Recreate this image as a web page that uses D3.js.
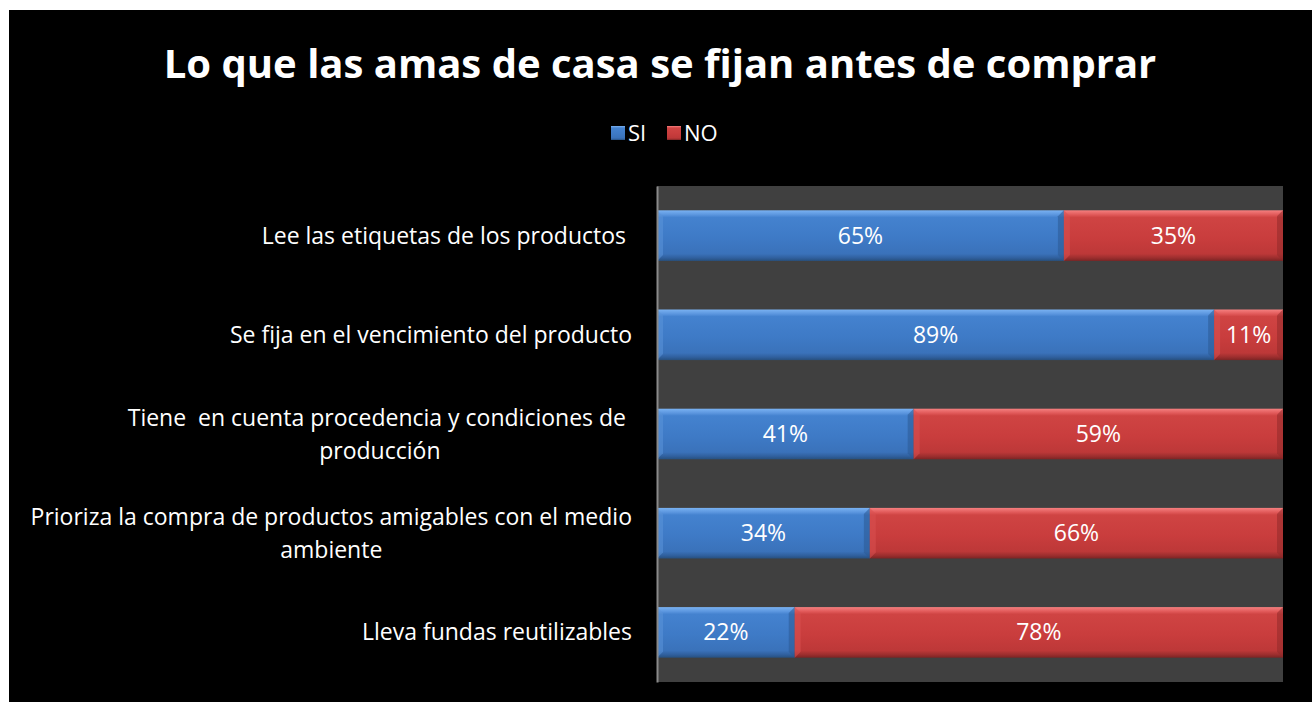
<!DOCTYPE html>
<html>
<head>
<meta charset="utf-8">
<script src="https://cdn.jsdelivr.net/npm/d3@7"></script>
<style>
  body { margin: 0; background: #fff; }
  svg { display: block; }
  text { white-space: pre; }
</style>
</head>
<body>
<script>
const width = 1312, height = 702;

// data
const categories = [
    ["Lee las etiquetas de los productos "],
    ["Se fija en el vencimiento del producto"],
    ["Tiene  en cuenta procedencia y condiciones de ", "producción"],
    ["Prioriza la compra de productos amigables con el medio", "ambiente"],
    ["Lleva fundas reutilizables"]
];
const si = [65, 89, 41, 34, 22];
const no = [35, 11, 59, 66, 78];
const seriesNames = ["SI", "NO"];

const font = "'Open Sans', Lato, sans-serif";
const plot = { left: 657, right: 1283, top: 186, bottom: 682 };

const svg = d3.select("body").append("svg")
    .attr("width", width)
    .attr("height", height);

svg.append("rect")
    .attr("x", 9).attr("y", 10)
    .attr("width", width - 9).attr("height", height - 10)
    .attr("fill", "#000");

const defs = svg.append("defs");
function bevelGradient(id, stops) {
    const g = defs.append("linearGradient")
        .attr("id", id)
        .attr("x1", 0).attr("y1", 0).attr("x2", 0).attr("y2", 1);
    stops.forEach(s => g.append("stop").attr("offset", s[0]).attr("stop-color", s[1]));
}
bevelGradient("grad-si", [["0%", "#7ab2f2"], ["9%", "#5a95de"], ["14%", "#4482cf"], ["55%", "#3e7ac6"], ["86%", "#3a72ba"], ["94%", "#30609e"], ["100%", "#27507f"]]);
bevelGradient("grad-no", [["0%", "#f58080"], ["9%", "#e05858"], ["14%", "#cf4443"], ["55%", "#c93d3d"], ["86%", "#bd3838"], ["94%", "#9c2e2e"], ["100%", "#7c2424"]]);
const fills = { SI: "url(#grad-si)", NO: "url(#grad-no)" };

// title
svg.append("text")
    .attr("x", 660).attr("y", 78)
    .attr("text-anchor", "middle")
    .style("font-family", font)
    .style("font-weight", "bold")
    .style("font-size", "40px")
    .attr("fill", "#fff")
    .text("Lo que las amas de casa se fijan antes de comprar");

// legend
const legend = svg.append("g");
const legendX = [611, 667];
seriesNames.forEach((name, i) => {
    legend.append("rect")
        .attr("x", legendX[i]).attr("y", 126)
        .attr("width", 14).attr("height", 14)
        .attr("fill", fills[name]);
    legend.append("text")
        .attr("x", legendX[i] + 17).attr("y", 141)
        .style("font-family", font)
        .style("font-size", "22px")
        .attr("fill", "#fff")
        .text(name);
});

// plot area
svg.append("rect")
    .attr("x", plot.left).attr("y", plot.top)
    .attr("width", plot.right - plot.left).attr("height", plot.bottom - plot.top)
    .attr("fill", "#404040");

const xScale = d3.scaleLinear().domain([0, 100]).range([plot.left, plot.right]);
const yScale = d3.scaleBand()
    .domain(d3.range(categories.length))
    .range([plot.top, plot.bottom])
    .paddingInner(0.49)
    .paddingOuter(0.245);

const rows = categories.map((c, i) => ({ i, label: c, parts: [
    { name: "SI", v0: 0, v1: si[i] },
    { name: "NO", v0: si[i], v1: si[i] + no[i] }
]}));

const bars = svg.append("g").selectAll("g")
    .data(rows)
    .join("g")
    .attr("transform", d => "translate(0," + yScale(d.i) + ")");

const seg = bars.selectAll("g")
    .data(d => d.parts)
    .join("g");

const bh = yScale.bandwidth();
seg.append("rect")
    .attr("x", d => xScale(d.v0))
    .attr("y", 0)
    .attr("width", d => xScale(d.v1) - xScale(d.v0))
    .attr("height", bh)
    .attr("fill", d => fills[d.name]);

// bevel edges on left and right
seg.append("path")
    .attr("d", d => {
        const x0 = xScale(d.v0), e = 6;
        return "M" + x0 + ",0L" + (x0 + e) + "," + e + "L" + (x0 + e) + "," + (bh - e) + "L" + x0 + "," + bh + "Z";
    })
    .attr("fill", d => d.name === "SI" ? "#5b93d8" : "#d85050")
    .attr("opacity", 0.55);
seg.append("path")
    .attr("d", d => {
        const x1 = xScale(d.v1), e = 6;
        return "M" + x1 + ",0L" + (x1 - e) + "," + e + "L" + (x1 - e) + "," + (bh - e) + "L" + x1 + "," + bh + "Z";
    })
    .attr("fill", d => d.name === "SI" ? "#2c5a94" : "#922a2a")
    .attr("opacity", 0.55);

seg.append("text")
    .attr("x", d => (xScale(d.v0) + xScale(d.v1)) / 2)
    .attr("y", bh / 2 + 8)
    .attr("text-anchor", "middle")
    .style("font-family", font)
    .style("font-size", "23px")
    .attr("fill", "#fff")
    .text(d => (d.v1 - d.v0) + "%");

// axis line
svg.append("g")
    .attr("transform", "translate(" + plot.left + ",0)")
    .call(d3.axisLeft(yScale).tickSize(0).tickFormat(""))
    .call(g => g.select(".domain").attr("stroke", "#8a8a8a").attr("stroke-width", 2));

// category labels: each block right-aligned, lines centred inside block
const labelRight = 632, lineH = 33;
const labels = svg.append("g")
    .style("font-family", font)
    .style("font-size", "23px")
    .attr("fill", "#fff");
rows.forEach(r => {
    const g = labels.append("g");
    const cy = yScale(r.i) + bh / 2;
    const n = r.label.length;
    const texts = r.label.map((line, k) => g.append("text")
        .attr("y", cy + 8 + (k - (n - 1) / 2) * lineH)
        .text(line));
    const widths = texts.map(t => t.node().getComputedTextLength());
    const blockW = d3.max(widths);
    const center = labelRight - blockW / 2;
    texts.forEach(t => t.attr("x", center).attr("text-anchor", "middle"));
});
</script>
</body>
</html>
